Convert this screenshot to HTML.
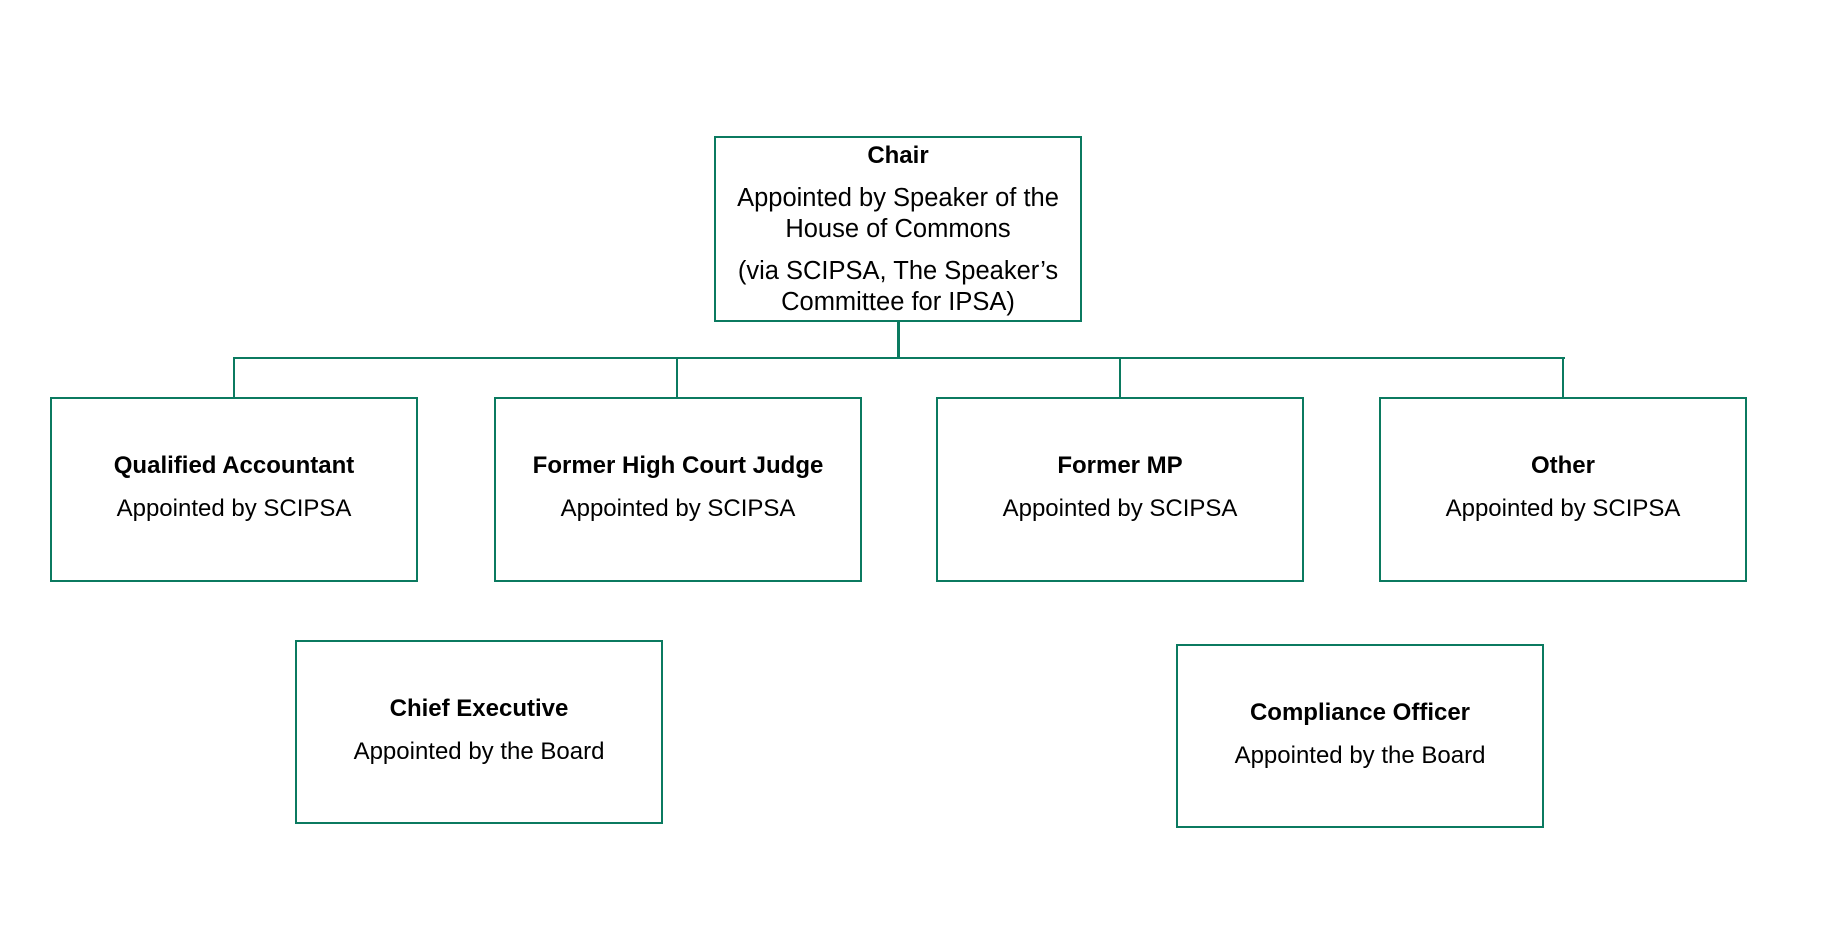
<!DOCTYPE html>
<html><head><meta charset="utf-8"><style>
body{margin:0;background:#fff;width:1842px;height:926px;position:relative;overflow:hidden;font-family:"Liberation Sans",sans-serif;color:#000}
.b{position:absolute;border:2.5px solid #0b7a60;box-sizing:border-box}
.t{position:absolute;left:-20px;right:-20px;text-align:center;font-size:24px;white-space:nowrap;line-height:30px}
.h{font-weight:bold}
.c{font-size:25.5px}
.l{position:absolute;background:#0b7a60}
</style></head><body>
<div class="b" style="left:714px;top:136px;width:368px;height:186px">
<div class="t h" style="top:3px">Chair</div>
<div class="t c" style="top:45px">Appointed by Speaker of the</div>
<div class="t c" style="top:76px">House of Commons</div>
<div class="t c" style="top:118px">(via SCIPSA, The Speaker’s</div>
<div class="t c" style="top:149px">Committee for IPSA)</div>
</div>
<div class="l" style="left:897px;top:321px;width:2.5px;height:38px"></div>
<div class="l" style="left:233px;top:357px;width:1332px;height:2px"></div>
<div class="l" style="left:233px;top:357px;width:2px;height:41px"></div>
<div class="l" style="left:676px;top:357px;width:2px;height:41px"></div>
<div class="l" style="left:1119px;top:357px;width:2px;height:41px"></div>
<div class="l" style="left:1562px;top:357px;width:2px;height:41px"></div>

<div class="b" style="left:50px;top:397px;width:368px;height:185px"><div class="t h" style="top:52px">Qualified Accountant</div><div class="t" style="top:95px">Appointed by SCIPSA</div></div>
<div class="b" style="left:494px;top:397px;width:368px;height:185px"><div class="t h" style="top:52px">Former High Court Judge</div><div class="t" style="top:95px">Appointed by SCIPSA</div></div>
<div class="b" style="left:936px;top:397px;width:368px;height:185px"><div class="t h" style="top:52px">Former MP</div><div class="t" style="top:95px">Appointed by SCIPSA</div></div>
<div class="b" style="left:1379px;top:397px;width:368px;height:185px"><div class="t h" style="top:52px">Other</div><div class="t" style="top:95px">Appointed by SCIPSA</div></div>

<div class="b" style="left:295px;top:640px;width:368px;height:184px"><div class="t h" style="top:52px">Chief Executive</div><div class="t" style="top:95px">Appointed by the Board</div></div>
<div class="b" style="left:1176px;top:644px;width:368px;height:184px"><div class="t h" style="top:52px">Compliance Officer</div><div class="t" style="top:95px">Appointed by the Board</div></div>
</body></html>
